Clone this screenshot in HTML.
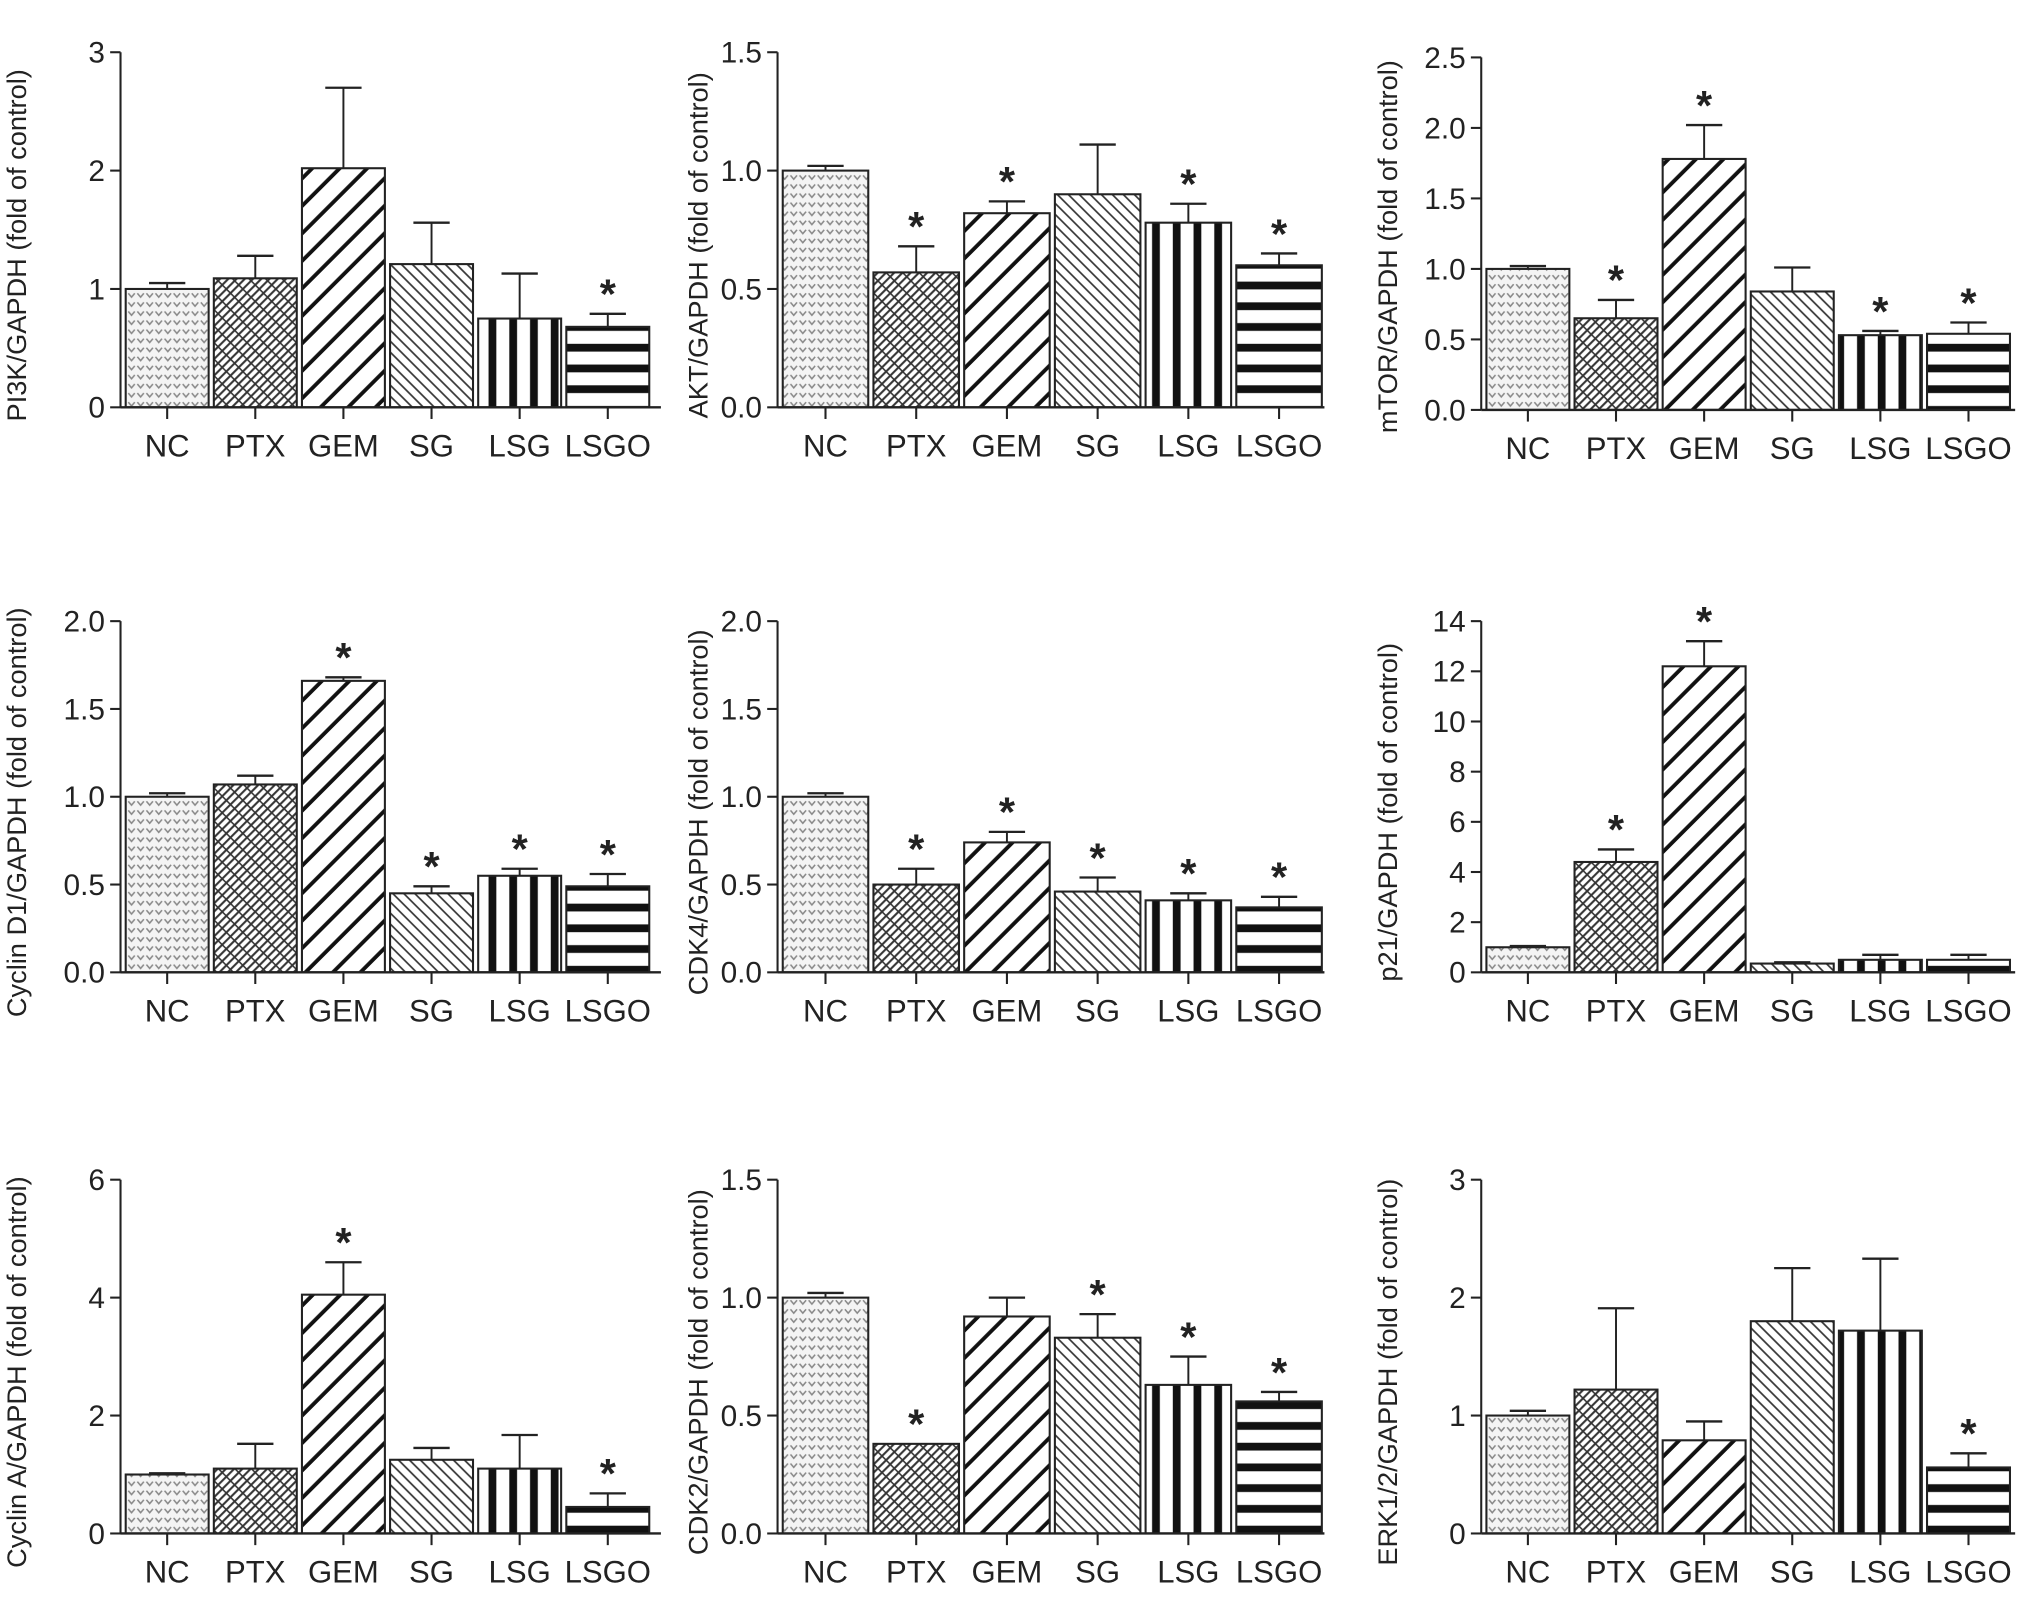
<!DOCTYPE html>
<html><head><meta charset="utf-8">
<style>html,body{margin:0;padding:0;background:#fff}svg{display:block}</style>
</head><body>
<svg id="fig" width="2032" height="1622" viewBox="0 0 1568 1251" xmlns="http://www.w3.org/2000/svg" font-family="Liberation Sans, Arial, sans-serif">
<defs>
<pattern id="pNC" width="7" height="7" patternUnits="userSpaceOnUse"><rect width="7" height="7" fill="#f4f4f4"/><path d="M1,2 L3.5,5 L6,2" stroke="#888" stroke-width="1.2" fill="none"/></pattern>
<pattern id="pPTX" width="9" height="9" patternUnits="userSpaceOnUse" patternTransform="rotate(-45)"><rect width="9" height="9" fill="#fff"/><path d="M0,2 H9 M0,6.5 H9" stroke="#333" stroke-width="1.6"/><path d="M2,0 V9" stroke="#333" stroke-width="1.2"/></pattern>
<pattern id="pGEM" width="15" height="15" patternUnits="userSpaceOnUse" patternTransform="rotate(-45)"><rect width="15" height="15" fill="#fff"/><path d="M0,7 H15" stroke="#111" stroke-width="3"/></pattern>
<pattern id="pSG" width="6" height="6" patternUnits="userSpaceOnUse" patternTransform="rotate(45)"><rect width="6" height="6" fill="#fff"/><path d="M0,3 H6" stroke="#333" stroke-width="1.3"/></pattern>
<pattern id="pLSG" width="16" height="10" patternUnits="userSpaceOnUse"><rect width="16" height="10" fill="#fff"/><rect x="9" width="6" height="10" fill="#111"/></pattern>
<pattern id="pLSGO" width="10" height="16" patternUnits="userSpaceOnUse"><rect width="10" height="16" fill="#fff"/><rect y="9" width="10" height="6" fill="#111"/></pattern>
</defs>
</svg>
<script>
const categories = ["NC","PTX","GEM","SG","LSG","LSGO"];
const patterns = ["pNC","pPTX","pGEM","pSG","pLSG","pLSGO"];
const yTitles = ["PI3K/GAPDH (fold of control)","AKT/GAPDH (fold of control)","mTOR/GAPDH (fold of control)","Cyclin D1/GAPDH (fold of control)","CDK4/GAPDH (fold of control)","p21/GAPDH (fold of control)","Cyclin A/GAPDH (fold of control)","CDK2/GAPDH (fold of control)","ERK1/2/GAPDH (fold of control)"];
const yTicks = [[0,1,2,3],[0,0.5,1,1.5],[0,0.5,1,1.5,2,2.5],[0,0.5,1,1.5,2],[0,0.5,1,1.5,2],[0,2,4,6,8,10,12,14],[0,2,4,6],[0,0.5,1,1.5],[0,1,2,3]];
const tickLabels = [["0","1","2","3"],["0.0","0.5","1.0","1.5"],["0.0","0.5","1.0","1.5","2.0","2.5"],["0.0","0.5","1.0","1.5","2.0"],["0.0","0.5","1.0","1.5","2.0"],["0","2","4","6","8","10","12","14"],["0","2","4","6"],["0.0","0.5","1.0","1.5"],["0","1","2","3"]];
const means = [[1.0,1.09,2.02,1.21,0.75,0.68],[1.0,0.57,0.82,0.90,0.78,0.60],[1.0,0.65,1.78,0.84,0.53,0.54],[1.0,1.07,1.66,0.45,0.55,0.49],[1.0,0.50,0.74,0.46,0.41,0.37],[1.0,4.4,12.2,0.35,0.5,0.5],[1.0,1.1,4.05,1.25,1.1,0.45],[1.0,0.38,0.92,0.83,0.63,0.56],[1.0,1.22,0.79,1.80,1.72,0.56]];
const errs = [[0.05,0.19,0.68,0.35,0.38,0.11],[0.02,0.11,0.05,0.21,0.08,0.05],[0.02,0.13,0.24,0.17,0.03,0.08],[0.02,0.05,0.02,0.04,0.04,0.07],[0.02,0.09,0.06,0.08,0.04,0.06],[0.05,0.5,1.0,0.05,0.2,0.2],[0.02,0.42,0.55,0.2,0.57,0.23],[0.02,0.0,0.08,0.1,0.12,0.04],[0.04,0.69,0.16,0.45,0.61,0.12]];
const signif = [[0,0,0,0,0,1],[0,1,1,0,1,1],[0,1,1,0,1,1],[0,0,1,1,1,1],[0,1,1,1,1,1],[0,1,1,0,0,0],[0,0,1,0,0,1],[0,1,0,1,1,1],[0,0,0,0,0,1]];

const svg = document.getElementById('fig');
const NS = 'http://www.w3.org/2000/svg';
const colAxis = [93,600,1143], colStart=[4,4,4], colStep=[68,70,68], colEnd=[510,1022,1555], colTitle=[20,546,1078];
const rowY0 = [314,750,1183], rowTop=[40,479,910];
function mk(tag, attrs, parent){const e=document.createElementNS(NS,tag);for(const k in attrs)e.setAttribute(k,attrs[k]);(parent||svg).appendChild(e);return e;}

for(let p=0;p<9;p++){
  const c=p%3, r=Math.floor(p/3);
  const g=mk('g',{});
  
  
  const ax=colAxis[c], y0=rowY0[r]+(p===2?2:0), yt=rowTop[r]+(p===2?4:0);
  const ticks=yTicks[p], ymax=ticks[ticks.length-1];
  const ys=v=>y0-(v/ymax)*(y0-yt);
  const xs=i=>ax+colStart[c]+i*colStep[c];
  const bw=colStep[c]-4;
  const yl=mk('line',{x1:ax,y1:yt,x2:ax,y2:y0,stroke:'#222','stroke-width':1.6},g);
  
  
  ticks.forEach((t,i)=>{
    mk('line',{x1:ax-8,y1:ys(t),x2:ax,y2:ys(t),stroke:'#222','stroke-width':1.6},g);
    const tl=mk('text',{x:ax-12,y:ys(t)+8,'text-anchor':'end','font-size':23,fill:'#222'},g);
    tl.textContent=tickLabels[p][i];
    
    
  });
  const cy=(y0+rowTop[r])/2+12;
  const ttl=mk('text',{x:colTitle[c],y:cy,'text-anchor':'middle','font-size':21,fill:'#222',transform:`rotate(-90 ${colTitle[c]} ${cy})`},g);
  ttl.textContent=yTitles[p];
  
  
  categories.forEach((cat,i)=>{
    const x=xs(i), cx=x+bw/2, v=means[p][i], e=errs[p][i];
    const b=mk('rect',{x:x,y:ys(v),width:bw,height:y0-ys(v),fill:`url(#${patterns[i]})`,stroke:'#222','stroke-width':1.6},g);
    
    
    if(e>0){
      mk('line',{x1:cx,y1:ys(v),x2:cx,y2:ys(v+e),stroke:'#222','stroke-width':1.5},g);
      mk('line',{x1:cx-14,y1:ys(v+e),x2:cx+14,y2:ys(v+e),stroke:'#222','stroke-width':1.8},g);
    }
    if(signif[p][i]){
      const s=mk('text',{x:cx,y:ys(v+e)-4,'text-anchor':'middle','font-size':32,'font-weight':'bold',fill:'#222'},g);
      s.textContent='*';
      
      
    }
    mk('line',{x1:cx,y1:y0,x2:cx,y2:y0+9,stroke:'#222','stroke-width':1.6},g);
    const lb=mk('text',{x:cx,y:y0+38,'text-anchor':'middle','font-size':24,fill:'#222'},g);
    lb.textContent=cat;
    
    
  });
  const xl=mk('line',{x1:ax,y1:y0,x2:colEnd[c],y2:y0,stroke:'#222','stroke-width':1.8},g);
  
  
}
</script>
</body></html>
